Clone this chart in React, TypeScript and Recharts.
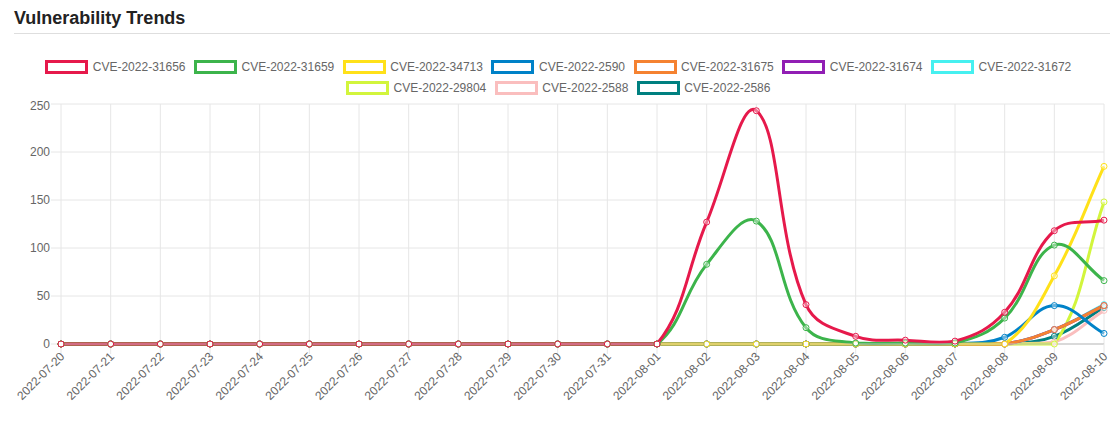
import React from 'react';
import { LineChart, Line, XAxis, YAxis, CartesianGrid } from 'recharts';

const dates = [
  '2022-07-20', '2022-07-21', '2022-07-22', '2022-07-23', '2022-07-24', '2022-07-25',
  '2022-07-26', '2022-07-27', '2022-07-28', '2022-07-29', '2022-07-30', '2022-07-31',
  '2022-08-01', '2022-08-02', '2022-08-03', '2022-08-04', '2022-08-05', '2022-08-06',
  '2022-08-07', '2022-08-08', '2022-08-09', '2022-08-10',
];

const flat = [0, 0, 0, 0, 0, 0, 0, 0, 0, 0, 0, 0];

const cve31656 = [...flat, 0, 127, 243, 41, 8, 4, 3, 33, 118, 129];
const cve31659 = [...flat, 0, 83, 128, 17, 1, 1, 1, 27, 103, 66];
const cve34713 = [...flat, 0, 0, 0, 0, 0, 0, 0, 0, 71, 185];
const cve2590 = [...flat, 0, 0, 0, 0, 0, 0, 0, 7, 40, 11];
const cve31675 = [...flat, 0, 0, 0, 0, 0, 0, 0, 0, 15, 40];
const cve31674 = [...flat, 0, 0, 0, 0, 0, 0, 0, 0, 15, 40];
const cve31672 = [...flat, 0, 0, 0, 0, 0, 0, 0, 0, 15, 41];
const cve29804 = [...flat, 0, 0, 0, 0, 0, 0, 0, 0, 0, 148];
const cve2588 = [...flat, 0, 0, 0, 0, 0, 0, 0, 0, 2, 35];
const cve2586 = [...flat, 0, 0, 0, 0, 0, 0, 0, 0, 8, 38];

const yTicks = [0, 50, 100, 150, 200, 250];

const series = [
  { name: 'CVE-2022-31656', color: '#e6194b', values: cve31656 },
  { name: 'CVE-2022-31659', color: '#3cb44b', values: cve31659 },
  { name: 'CVE-2022-34713', color: '#ffe119', values: cve34713 },
  { name: 'CVE-2022-2590', color: '#0082c8', values: cve2590 },
  { name: 'CVE-2022-31675', color: '#f58231', values: cve31675 },
  { name: 'CVE-2022-31674', color: '#911eb4', values: cve31674 },
  { name: 'CVE-2022-31672', color: '#46f0f0', values: cve31672 },
  { name: 'CVE-2022-29804', color: '#d2f53c', values: cve29804 },
  { name: 'CVE-2022-2588', color: '#fabebe', values: cve2588 },
  { name: 'CVE-2022-2586', color: '#008080', values: cve2586 },
];

const data = dates.map((date, i) => {
  const row: Record<string, any> = { date };
  series.forEach((s) => (row[s.name] = s.values[i]));
  return row;
});

const FONT = "'Helvetica Neue', Helvetica, Arial, 'Liberation Sans', sans-serif";

// chart.js style spline (tension 0.4), control points capped at the baseline
const TENSION = 0.4;
function splineCurve(context: any) {
  let pts: number[][] = [];
  return {
    areaStart() {},
    areaEnd() {},
    lineStart() {
      pts = [];
    },
    point(x: number, y: number) {
      pts.push([x, y]);
    },
    lineEnd() {
      const n = pts.length;
      if (!n) return;
      const bottom = Math.max(...pts.map((p) => p[1]));
      const cps = pts.map((cur, i) => {
        const prev = pts[i - 1] || cur;
        const next = pts[i + 1] || cur;
        const d01 = Math.hypot(cur[0] - prev[0], cur[1] - prev[1]);
        const d12 = Math.hypot(next[0] - cur[0], next[1] - cur[1]);
        let s01 = d01 / (d01 + d12);
        let s12 = d12 / (d01 + d12);
        if (isNaN(s01)) s01 = 0;
        if (isNaN(s12)) s12 = 0;
        const fa = TENSION * s01;
        const fb = TENSION * s12;
        return {
          px: cur[0] - fa * (next[0] - prev[0]),
          py: Math.min(bottom, cur[1] - fa * (next[1] - prev[1])),
          nx: cur[0] + fb * (next[0] - prev[0]),
          ny: Math.min(bottom, cur[1] + fb * (next[1] - prev[1])),
        };
      });
      context.moveTo(pts[0][0], pts[0][1]);
      for (let i = 1; i < n; i++) {
        context.bezierCurveTo(cps[i - 1].nx, cps[i - 1].ny, cps[i].px, cps[i].py, pts[i][0], pts[i][1]);
      }
    },
  };
}

const DateTick = ({ x, y, payload }: any) => (
  <g transform={`translate(${x + 1.5},${y + 0.5})`}>
    <text
      textAnchor="end"
      dominantBaseline="central"
      transform="rotate(-45)"
      fill="#666"
      fontSize={12}
      fontFamily={FONT}
    >
      {payload.value}
    </text>
  </g>
);

const LegendRow = ({ items, top }: { items: typeof series; top: number }) => (
  <div
    style={{
      position: 'absolute',
      top,
      left: 0,
      width: 1118,
      height: 21,
      display: 'flex',
      justifyContent: 'center',
      alignItems: 'center',
      gap: 10,
    }}
  >
    {items.map((s) => (
      <div key={s.name} style={{ display: 'flex', alignItems: 'center' }}>
        <div
          style={{
            width: 43,
            height: 14,
            boxSizing: 'border-box',
            border: `3px solid ${s.color}`,
            background: '#fff',
            marginLeft: -1.5,
            marginRight: 4.5,
          }}
        />
        <span style={{ fontSize: 12, color: '#666', fontFamily: FONT, lineHeight: '14px' }}>{s.name}</span>
      </div>
    ))}
  </div>
);

export default function App() {
  return (
    <div style={{ position: 'relative', width: 1118, height: 428, background: '#fff', fontFamily: FONT }}>
      <style>{'body{margin:0}'}</style>
      <div
        style={{
          position: 'absolute',
          left: 14,
          top: 0,
          width: 1096,
          height: 34,
          borderBottom: '1px solid #dedede',
          boxSizing: 'border-box',
          paddingTop: 7,
          fontSize: 18,
          lineHeight: '22px',
          fontWeight: 'bold',
          color: '#222',
        }}
      >
        Vulnerability Trends
      </div>
      <LegendRow items={series.slice(0, 7)} top={56} />
      <LegendRow items={series.slice(7)} top={77} />
      <div style={{ position: 'absolute', left: 0, top: 98 }}>
        <LineChart width={1118} height={330} data={data} margin={{ top: 6, right: 14, left: 0, bottom: 0 }}>
          <CartesianGrid stroke="#e6e6e6" strokeWidth={1} />
          <XAxis
            dataKey="date"
            interval={0}
            height={84}
            tickSize={10}
            tickMargin={0}
            tickLine={{ stroke: '#e6e6e6' }}
            axisLine={{ stroke: '#bfbfbf' }}
            tick={<DateTick />}
          />
          <YAxis
            width={61}
            domain={[0, 250]}
            ticks={yTicks}
            tickSize={10}
            tickMargin={1}
            tickLine={{ stroke: '#e6e6e6' }}
            axisLine={false}
            tick={{ fill: '#666', fontSize: 12, fontFamily: FONT }}
          />
          {[...series].reverse().map((s) => (
            <Line
              key={s.name}
              dataKey={s.name}
              type={splineCurve as any}
              stroke={s.color}
              strokeWidth={3}
              dot={{ r: 3, stroke: s.color, strokeWidth: 1, fill: 'rgba(255,255,255,0.4)' }}
              activeDot={false}
              isAnimationActive={false}
            />
          ))}
        </LineChart>
      </div>
    </div>
  );
}
